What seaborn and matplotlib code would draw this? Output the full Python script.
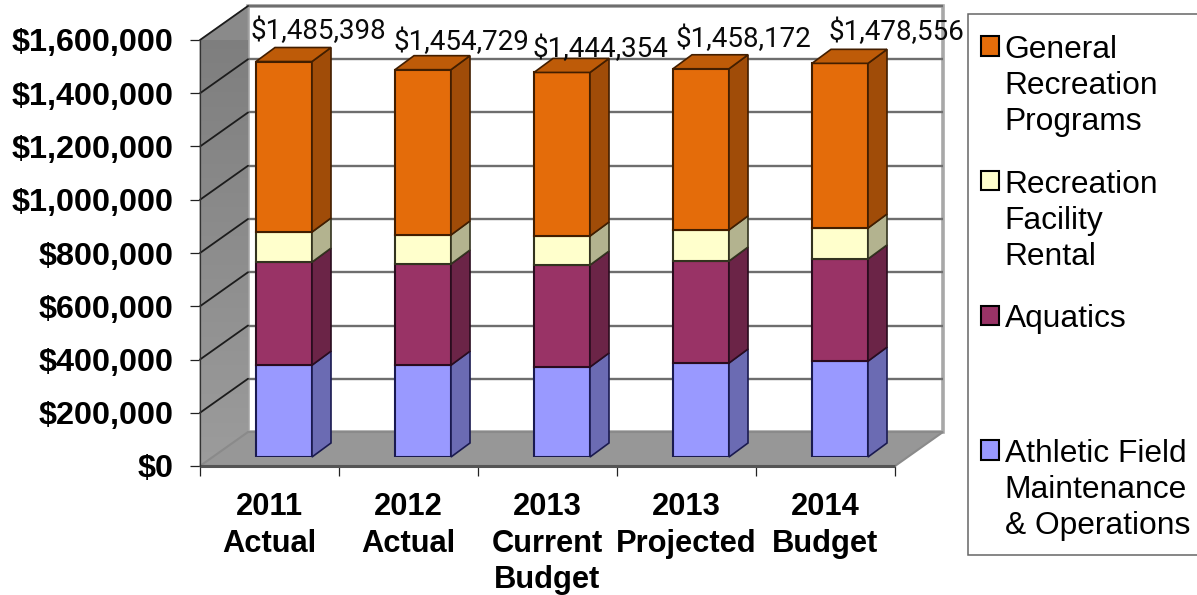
import numpy as np
import pandas as pd
import matplotlib
matplotlib.use("Agg")
import matplotlib.pyplot as plt
import seaborn as sns
from matplotlib.legend_handler import HandlerBase
from matplotlib.patches import Patch, Polygon, Rectangle
from matplotlib.ticker import FuncFormatter, MultipleLocator

# Budget figures per fiscal column
periods = ["2011\nActual", "2012\nActual", "2013\nCurrent\nBudget", "2013\nProjected", "2014\nBudget"]
athletic = [345000, 345000, 338000, 353000, 360000]
aquatics = [387000, 380000, 383000, 383000, 384000]
rental = [113000, 109000, 109000, 117000, 116000]
general = [640398, 620729, 614354, 605172, 618556]

series_names = ["Athletic Field\nMaintenance\n& Operations", "Aquatics\n\n",
                "Recreation\nFacility\nRental", "General\nRecreation\nPrograms"]
series_values = [athletic, aquatics, rental, general]
front_colors = ["#9999FF", "#993366", "#FFFFCC", "#E46C0A"]
side_colors = ["#6B6BB3", "#6B2447", "#B3B38F", "#A04C08"]
top_color = "#BE5B08"
edge_colors = ["#1A1A50", "#2A0C1E", "#33331F", "#421E00"]

# Hand-placed total labels: pixel offset from each bar's front top centre
label_offsets = [(34.5, 30), (38, 27), (38, 23), (42, 29), (56, 31)]

W, H, DPI = 1197, 595, 100
PX_X = 139.0           # pixels per category
PX_Y = 426.0 / 1.6e6   # pixels per dollar

sns.set_theme(style="white", rc={"axes.facecolor": "none", "figure.facecolor": "white"})
plt.rcParams["font.family"] = ["Liberation Sans", "DejaVu Sans"]

fig = plt.figure(figsize=(W / DPI, H / DPI), dpi=DPI)


def axes_at(left, bottom_px):
    """Axes spanning five categories and $1.6M with its origin at the given pixel."""
    return fig.add_axes([left / W, (H - bottom_px) / H, 5 * PX_X / W, 426.0 / H])


# Front plane of the chart box: carries the real axes, walls and floor
frame = axes_at(200, 466)
frame.set_xlim(-0.5, 4.5)
frame.set_ylim(0, 1.6e6)
frame.set_zorder(1)

wall_dx = 48 / PX_X
wall_dy = 34 / PX_Y
x0, x1, top = -0.5, 4.5, 1.6e6

back = Polygon([(x0 + wall_dx, wall_dy), (x1 + wall_dx, wall_dy), (x1 + wall_dx, top + wall_dy),
                (x0 + wall_dx, top + wall_dy)], closed=True, facecolor="white",
               edgecolor="#A8A8A8", linewidth=2.6, clip_on=False, zorder=1)
frame.add_patch(back)

left_wall = Polygon([(x0, 0), (x0 + wall_dx, wall_dy), (x0 + wall_dx, top + wall_dy), (x0, top)],
                    closed=True, facecolor="#8A8A8A", edgecolor="#9A9A9A", linewidth=0.8,
                    clip_on=False, zorder=2)
frame.add_patch(left_wall)
shade = frame.imshow(np.linspace(0, 1, 64)[:, None], cmap=sns.blend_palette(["#7C7C7C", "#9C9C9C"], as_cmap=True),
                     extent=(x0, x0 + wall_dx, 0, top + wall_dy), origin="upper", aspect="auto", zorder=2.1)
shade.set_clip_path(left_wall)
frame.set_xlim(x0, x1)
frame.set_ylim(0, top)

floor = Polygon([(x0, 0), (x1, 0), (x1 + wall_dx, wall_dy), (x0 + wall_dx, wall_dy)], closed=True,
                facecolor="#979797", edgecolor="#8A8A8A", linewidth=1.5, clip_on=False, zorder=2.2)
frame.add_patch(floor)

for level in np.arange(2e5, 1.6e6 + 1, 2e5):
    frame.plot([x0 + wall_dx, x1 + wall_dx], [level + wall_dy] * 2, color="#6E6E6E", lw=1.7,
               clip_on=False, zorder=1.5, solid_capstyle="butt")
    frame.plot([x0, x0 + wall_dx], [level, level + wall_dy], color="#1C1C1C", lw=1.3,
               clip_on=False, zorder=2.5)
frame.plot([x0, x1], [0, 0], color="#555555", lw=2.2, clip_on=False, zorder=2.6, solid_capstyle="butt")
frame.plot([x0, x0], [0, top], color="#333333", lw=0.9, clip_on=False, zorder=2.6)

frame.spines[["top", "right", "left", "bottom"]].set_visible(False)
frame.grid(False)

frame.yaxis.set_major_locator(MultipleLocator(2e5))
frame.yaxis.set_major_formatter(FuncFormatter(lambda v, _: f"${v:,.0f}"))
frame.tick_params(axis="y", which="major", direction="out", length=7.2, width=0.9, color="#222222",
                  pad=12, labelsize=23.3, left=True)
frame.set_xticks(range(5), periods)
frame.set_xticks(np.arange(-0.5, 5), minor=True)
frame.tick_params(axis="x", which="major", length=0, pad=18.5, labelsize=22.2)
frame.tick_params(axis="x", which="minor", direction="out", length=7.2, width=0.9, color="#222222", bottom=True)
for tick in frame.get_yticklabels() + frame.get_xticklabels():
    tick.set_fontweight("bold")
    tick.set_color("black")
for tick in frame.get_xticklabels():
    tick.set_linespacing(1.3)

# Bars sit a little way into the box, so their axes are the frame shifted by that depth
bars = axes_at(214.5, 457)
bars.set_zorder(2)
bars.patch.set_alpha(0)
bars.axis("off")

table = pd.DataFrame({"period": periods})
running = np.zeros(len(periods))
bar_width = 56 / PX_X
side_dx = 19 / PX_X
side_dy = 14 / PX_Y
for name, vals, fc, sc, ec in zip(series_names, series_values, front_colors, side_colors, edge_colors):
    table["amount"] = vals
    sns.barplot(data=table, x="period", y="amount", order=periods, bottom=running, width=bar_width,
                color=fc, saturation=1, edgecolor=ec, linewidth=1.5, errorbar=None, ax=bars, zorder=3)
    for i, (v, b) in enumerate(zip(vals, running)):
        r = i + bar_width / 2
        bars.add_patch(Polygon([(r, b), (r + side_dx, b + side_dy), (r + side_dx, b + v + side_dy), (r, b + v)],
                               closed=True, facecolor=sc, edgecolor=ec, linewidth=1.2, clip_on=False, zorder=3))
    running = running + np.array(vals)

for i, total in enumerate(running):
    l, r = i - bar_width / 2, i + bar_width / 2
    bars.add_patch(Polygon([(l, total), (r, total), (r + side_dx, total + side_dy), (l + side_dx, total + side_dy)],
                           closed=True, facecolor=top_color, edgecolor=edge_colors[-1], linewidth=1.2,
                           clip_on=False, zorder=3))
    ox, oy = label_offsets[i]
    bars.annotate(f"${total:,.0f}", xy=(i, total), xytext=(ox, oy), textcoords="offset pixels",
                  ha="center", va="center", fontsize=20, family="Roboto", color="#0A0A0A",
                  annotation_clip=False, zorder=5)

bars.set_xlim(-0.5, 4.5)
bars.set_ylim(0, 1.6e6)


class FirstLineSwatch(HandlerBase):
    """Legend key aligned with the first line of a three-line label."""

    def __init__(self, lift, **kwargs):
        super().__init__(**kwargs)
        self.lift = lift

    def create_artists(self, legend, orig_handle, xdescent, ydescent, width, height, fontsize, trans):
        box = Rectangle((-xdescent, -ydescent + self.lift), width, height, transform=trans,
                        facecolor=orig_handle.get_facecolor(), edgecolor="black", linewidth=1.5)
        return [box]


# Legend box runs off the right edge of the figure, so its frame is drawn separately
fig.add_artist(Rectangle((968 / W, 1 - 555 / H), 260 / W, 541 / H, transform=fig.transFigure,
                         facecolor="white", edgecolor="#666666", linewidth=1.1, zorder=2.5))

handles = [Patch(facecolor=c, label=n) for c, n in zip(front_colors[::-1], series_names[::-1])]
swatch = FirstLineSwatch(29.0)
legend = fig.legend(handles=handles, loc="upper left", bbox_to_anchor=(981 / W, 1 - 35 / H),
                    bbox_transform=fig.transFigure, borderaxespad=0, borderpad=0, fontsize=22.9,
                    frameon=False, handlelength=0.57, handleheight=0.57, handletextpad=0.17,
                    labelspacing=1.03, handler_map={h: swatch for h in handles})
legend.set_zorder(3)
for t in legend.get_texts():
    t.set_linespacing(1.26)
    t.set_color("black")

fig.savefig("out.png", dpi=DPI)
